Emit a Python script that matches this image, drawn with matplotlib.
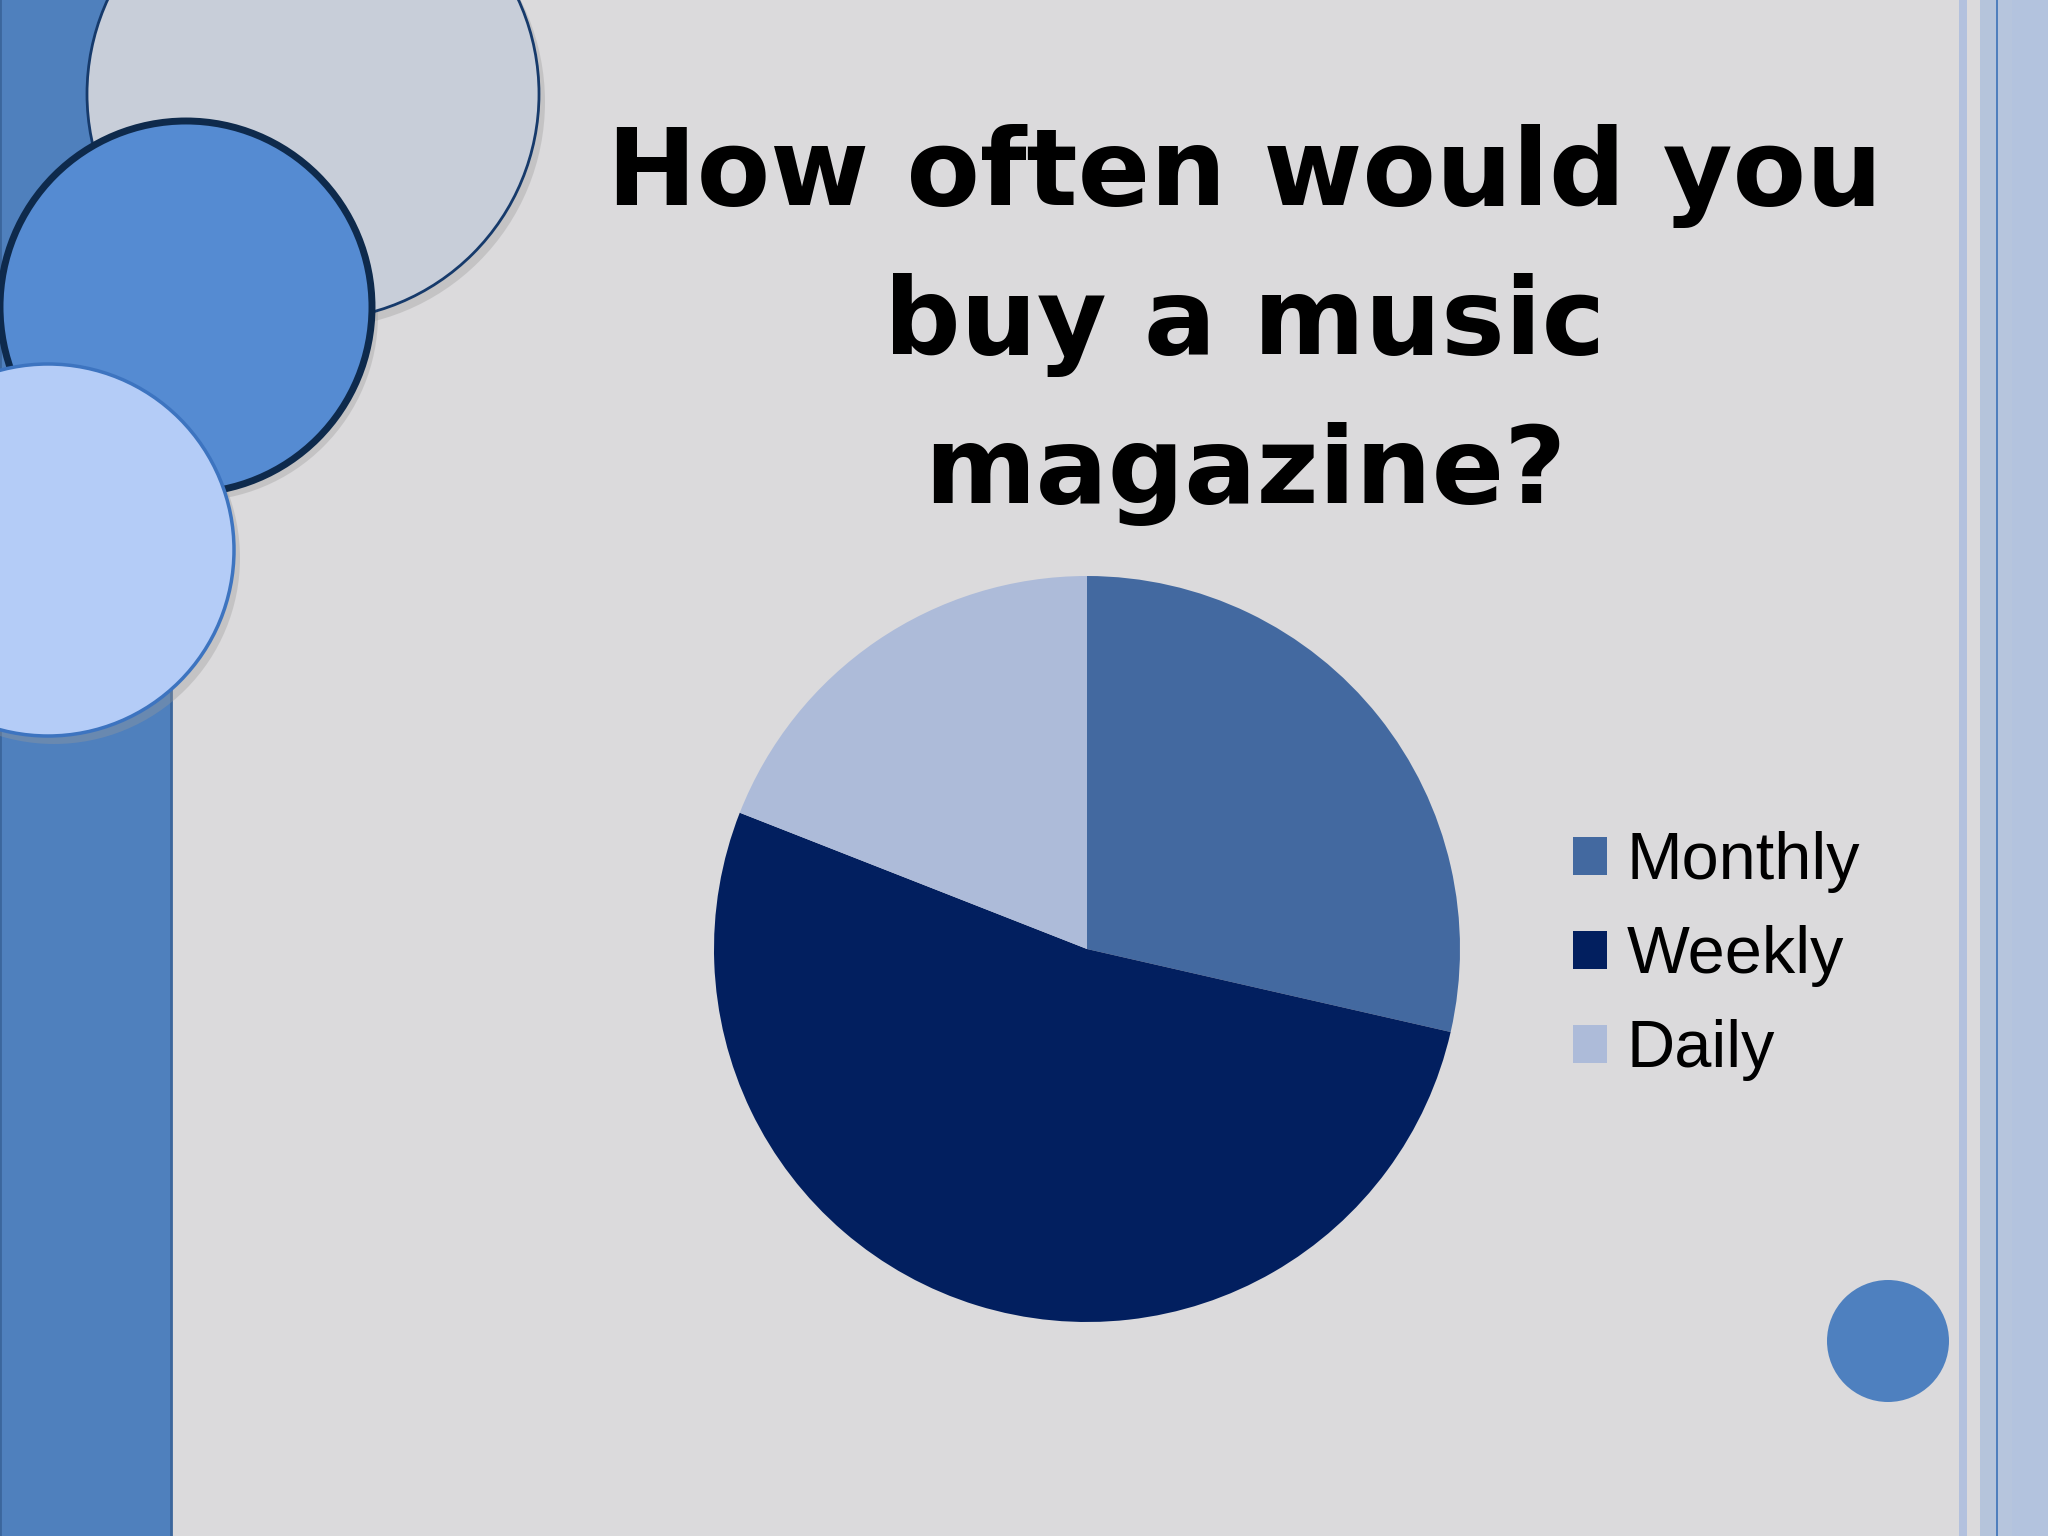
import matplotlib
matplotlib.use("Agg")
import matplotlib.pyplot as plt
from matplotlib.patches import Rectangle, Circle

# --- data ---
labels = ["Monthly", "Weekly", "Daily"]
counts = [6, 11, 4]
colors = ["#4369a0", "#021f5f", "#adbbd9"]
title_lines = ["How often would you", "buy a music", "magazine?"]

W, H = 2048, 1536
fig = plt.figure(figsize=(W / 100, H / 100), dpi=100)
fig.patch.set_facecolor("#dbdadc")

# --- slide decoration in pixel coords ---
deco = fig.add_axes([0, 0, 1, 1])
deco.set_xlim(0, W); deco.set_ylim(H, 0); deco.axis("off")

deco.add_patch(Rectangle((0, -5), 171, H + 10, facecolor="#4f80bd",
                         edgecolor="#3b669c", lw=2, zorder=1))

# right-hand stripes
for x0, x1, c in [(1959, 1967, "#b3c1de"), (1980, 1996, "#b5c4db"),
                  (1996, 1998, "#4f7fbd"), (1998, 2012, "#b6c5dd"),
                  (2012, 2048, "#b3c3de")]:
    deco.add_patch(Rectangle((x0, 0), x1 - x0, H, facecolor=c, edgecolor="none"))

# circles top-left (shadow then body)
for (cx, cy, r, fc, ec, lw) in [
        (313, 94, 226, "#c8ced9", "#163a6b", 2),
        (186, 307, 186, "#558bd2", "#0e2a4c", 5),
        (48, 550, 186, "#b4ccf7", "#3d74c0", 2.5)]:
    deco.add_patch(Circle((cx + 6, cy + 8), r, facecolor="#9a9a9a", alpha=0.35,
                          edgecolor="none", zorder=2))
    deco.add_patch(Circle((cx, cy), r, facecolor=fc, edgecolor=ec, lw=lw, zorder=3))

deco.add_patch(Circle((1888, 1341), 61, facecolor="#4e80bf", edgecolor="none", zorder=3))

# --- title ---
for i, line in enumerate(title_lines):
    deco.text(1245, 205 + i * 149, line, ha="center", va="baseline",
              fontsize=77, fontweight="bold", color="black",
              family="DejaVu Sans", zorder=5)

# --- pie ---
cx, cy, r = 1087, 949, 373
ax = fig.add_axes([(cx - r) / W, (H - cy - r) / H, 2 * r / W, 2 * r / H])
wedges, _ = ax.pie(counts, colors=colors, startangle=90, counterclock=False,
                   radius=1, wedgeprops=dict(linewidth=0))
ax.set_xlim(-1, 1); ax.set_ylim(-1, 1); ax.set_aspect("equal")
ax.axis("off")

fig.legend(wedges, labels, loc="upper left", bbox_to_anchor=(1540 / W, 1 - 798 / H),
           frameon=False, handlelength=0.5, handleheight=0.5,
           handletextpad=0.3, labelspacing=0.48, borderpad=0,
           prop={"family": "Liberation Sans", "size": 48})

fig.savefig("out.png", dpi=100, facecolor=fig.get_facecolor())
